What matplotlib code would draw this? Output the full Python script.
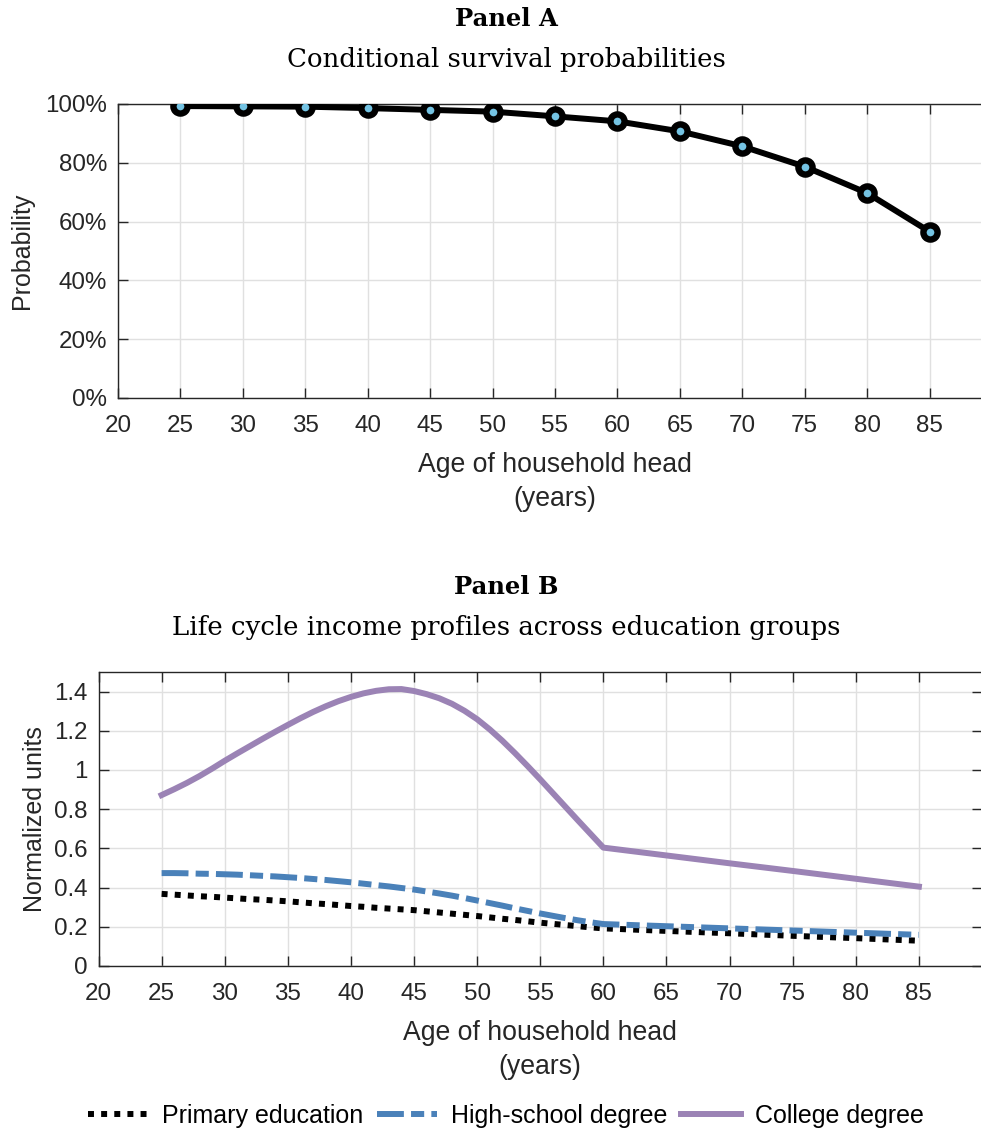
import matplotlib
matplotlib.use("Agg")
import matplotlib.pyplot as plt
from matplotlib.ticker import FuncFormatter

# survival probabilities by age of household head
ages_a = [25, 30, 35, 40, 45, 50, 55, 60, 65, 70, 75, 80, 85]
survival = [0.993, 0.992, 0.991, 0.986, 0.980, 0.974, 0.958, 0.941,
            0.907, 0.856, 0.787, 0.697, 0.566]

# income profiles by education group (yearly up to 60, then every 5 years)
ages_b = list(range(25, 61)) + [65, 70, 75, 80, 85]
primary = [0.368, 0.364, 0.360, 0.356, 0.353, 0.349, 0.345, 0.341, 0.338,
           0.334, 0.330, 0.325, 0.320, 0.316, 0.311, 0.306, 0.302, 0.297,
           0.293, 0.289, 0.285, 0.279, 0.273, 0.267, 0.261, 0.255, 0.248,
           0.241, 0.235, 0.228, 0.221, 0.215, 0.209, 0.203, 0.197, 0.192,
           0.179, 0.167, 0.154, 0.142, 0.129]
highschool = [0.474, 0.474, 0.473, 0.471, 0.470, 0.468, 0.466, 0.463, 0.460,
              0.457, 0.453, 0.449, 0.444, 0.439, 0.433, 0.427, 0.420, 0.413,
              0.406, 0.398, 0.390, 0.380, 0.370, 0.359, 0.347, 0.334, 0.321,
              0.308, 0.294, 0.281, 0.268, 0.256, 0.244, 0.233, 0.223, 0.214,
              0.203, 0.192, 0.181, 0.170, 0.159]
college = [0.872, 0.902, 0.934, 0.969, 1.007, 1.047, 1.085, 1.122, 1.159,
           1.195, 1.230, 1.264, 1.296, 1.325, 1.351, 1.373, 1.391, 1.404,
           1.412, 1.413, 1.403, 1.387, 1.366, 1.338, 1.302, 1.259, 1.207,
           1.149, 1.086, 1.020, 0.952, 0.882, 0.812, 0.742, 0.673, 0.604,
           0.564, 0.524, 0.485, 0.445, 0.405]

xticks = list(range(20, 90, 5))
yticks_a = [0, 0.2, 0.4, 0.6, 0.8, 1.0]
yticks_b = [0, 0.2, 0.4, 0.6, 0.8, 1.0, 1.2, 1.4]
yticklabels_b = ['0', '0.2', '0.4', '0.6', '0.8', '1', '1.2', '1.4']

W, H = 981, 1134
fig = plt.figure(figsize=(W / 100, H / 100), dpi=100)
plt.rcParams['font.family'] = ['Liberation Sans', 'DejaVu Sans']

axis_col = '#262626'
tick_fs = 17.4
label_fs = 18.0
xlabel_fs = 19.2


def px_axes(l, t, r, b):
    return fig.add_axes([l / W, 1 - b / H, (r - l) / W, (b - t) / H])


def style_axes(ax):
    ax.grid(True, color='#e0e0e0', linewidth=1.0)
    ax.set_axisbelow(True)
    for s in ax.spines.values():
        s.set_color(axis_col)
        s.set_linewidth(1.0)
    ax.tick_params(direction='in', length=7, width=1.0, colors=axis_col,
                   labelsize=tick_fs, top=True, right=True, pad=8)
    ax.tick_params(axis='x', pad=12)


# --- Panel A ---
axA = px_axes(118, 104, 992, 398)
axA.plot(ages_a, survival, color='black', linewidth=4.3, marker='o',
         markersize=10.2, markeredgewidth=4.6, markeredgecolor='black',
         markerfacecolor='#74c3e3', zorder=3)
axA.set_xlim(20, 90)
axA.set_ylim(0, 1)
axA.set_xticks(xticks)
axA.set_yticks(yticks_a)
axA.yaxis.set_major_formatter(FuncFormatter(lambda v, p: f"{v * 100:.0f}%"))
style_axes(axA)
axA.set_ylabel('Probability', fontsize=label_fs, color=axis_col, labelpad=8)
axA.set_xlabel('Age of household head\n(years)', fontsize=xlabel_fs,
               color=axis_col, linespacing=1.4, labelpad=11)

# --- Panel B ---
axB = px_axes(98.5, 672, 982, 966)
axB.plot(ages_b, primary, color='black', linewidth=4.3, dashes=(1.0, 1.2),
         dash_capstyle='butt', label='Primary education')
axB.plot(ages_b, highschool, color='#4a81b9', linewidth=4.3,
         dashes=(4.5, 1.2, 2.2, 1.2), dash_capstyle='butt',
         label='High-school degree')
axB.plot(ages_b, college, color='#9b83b5', linewidth=4.3,
         solid_joinstyle='round', label='College degree')
axB.set_xlim(20, 90)
axB.set_ylim(0, 1.5)
axB.set_xticks(xticks)
axB.set_yticks(yticks_b)
axB.set_yticklabels(yticklabels_b)
style_axes(axB)
axB.set_ylabel('Normalized units', fontsize=label_fs, color=axis_col,
               labelpad=5)
axB.set_xlabel('Age of household head\n(years)', fontsize=xlabel_fs,
               color=axis_col, linespacing=1.4, labelpad=11)

# panel titles
tx = 506 / W
for y_bold, y_sub, bold, sub in [
        (19, 60, 'Panel A', 'Conditional survival probabilities'),
        (587, 628, 'Panel B', 'Life cycle income profiles across education groups')]:
    fig.text(tx, 1 - y_bold / H, bold, ha='center', va='center',
             family='DejaVu Serif', fontweight='bold', fontsize=17.5)
    fig.text(tx, 1 - y_sub / H, sub, ha='center', va='center',
             family='DejaVu Serif', fontsize=18.7)

fig.legend(loc='center', bbox_to_anchor=(506 / W, 1 - 1116 / H), ncol=3,
           frameon=False, fontsize=label_fs, handlelength=2.4,
           handletextpad=0.55, columnspacing=0.55, borderpad=0)

fig.savefig('out.png', dpi=100)
